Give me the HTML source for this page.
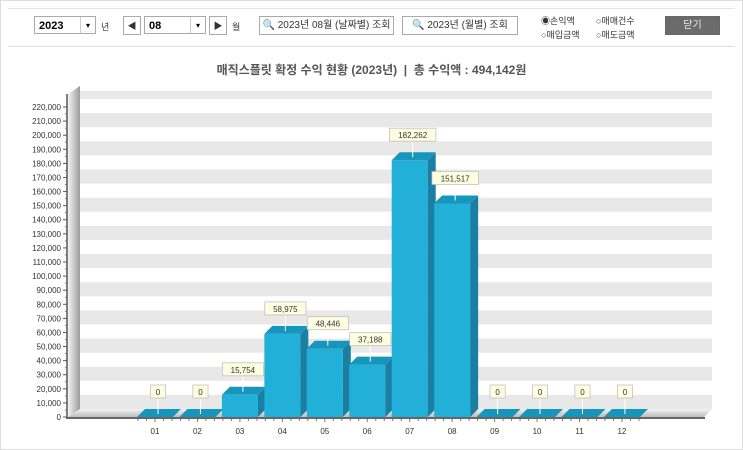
<!DOCTYPE html>
<html><head><meta charset="utf-8"><style>
body{margin:0;width:743px;height:450px;background:#fff;font-family:"Liberation Sans","Noto Sans CJK KR",sans-serif;overflow:hidden}
.frame{position:absolute;left:0;top:0;width:741px;height:448px;border:1px solid #ddd}
.tb{position:absolute;top:8px;left:8px;right:8px;height:37px;border-bottom:1px solid #ddd;border-top:1px solid #e6e6e6}
.sel{position:absolute;top:16px;height:18px;border:1px solid #aaa;font-size:11px;font-weight:bold;line-height:18px;padding-left:4px;box-sizing:border-box;background:#fff}
.sel b{position:absolute;right:0;top:0;width:14px;height:16px;border-left:1px solid #ccc;font-size:8px;text-align:center;font-weight:normal}
.btn{position:absolute;top:16px;height:19px;border:1px solid #aaa;font-size:10px;line-height:18px;text-align:center;box-sizing:border-box;background:#fff;color:#333}
.lbl{position:absolute;font-size:9px;color:#333}
</style></head><body>
<div class="frame"></div>
<div class="tb"></div>
<div class="sel" style="left:34px;width:62px">2023<b>▾</b></div>
<div class="lbl" style="left:101px;top:20px">년</div>
<div class="btn" style="left:123px;width:18px;font-size:9px">◀</div>
<div class="sel" style="left:144px;width:62px">08<b>▾</b></div>
<div class="btn" style="left:209px;width:18px;font-size:9px">▶</div>
<div class="lbl" style="left:232px;top:20px">월</div>
<div class="btn" style="left:259px;width:135px">🔍 2023년 08월 (날짜별) 조회</div>
<div class="btn" style="left:402px;width:116px">🔍 2023년 (월별) 조회</div>
<div class="lbl" style="left:541px;top:14px">◉손익액</div>
<div class="lbl" style="left:596px;top:14px">○매매건수</div>
<div class="lbl" style="left:541px;top:28px">○매입금액</div>
<div class="lbl" style="left:596px;top:28px">○매도금액</div>
<div class="btn" style="left:665px;width:55px;background:#6b6b6b;color:#eee;border-color:#666">닫기</div>
<div style="position:absolute;top:61px;left:0;width:743px;text-align:center;font-size:12px;font-weight:bold;color:#555">매직스플릿 확정 수익 현황 (2023년) &nbsp;| &nbsp;총 수익액 : 494,142원</div>
<svg id="c" width="743" height="450" style="position:absolute;left:0;top:0"></svg>
<script>
const months=["01","02","03","04","05","06","07","08","09","10","11","12"];
const values=[0,0,15754,58975,48446,37188,182262,151517,0,0,0,0];
const yTicks=[0,10000,20000,30000,40000,50000,60000,70000,80000,90000,100000,110000,120000,130000,140000,150000,160000,170000,180000,190000,200000,210000,220000];
const svg=document.getElementById('c');const NS='http://www.w3.org/2000/svg';
const y0=417,pp=14.09/10000,D=8;
const Y=v=>y0-v*pp, X=i=>155+i*42.45;
function mk(t,a,p){const e=document.createElementNS(NS,t);for(const k in a)e.setAttribute(k,a[k]);(p||svg).appendChild(e);return e;}
// defs
const defs=mk('defs',{});
const lg=mk('linearGradient',{id:'wall',x1:0,x2:1,y1:0,y2:0},defs);
mk('stop',{offset:0,'stop-color':'#f4f4f4'},lg);mk('stop',{offset:1,'stop-color':'#9a9a9a'},lg);
const fg=mk('linearGradient',{id:'floor',x1:0,x2:0,y1:0,y2:1},defs);
mk('stop',{offset:0,'stop-color':'#f2f2f2'},fg);mk('stop',{offset:1,'stop-color':'#bdbdbd'},fg);
// back wall bands
const wx0=80,wx1=712;
for(let k=0;k<23;k+=2){const top=Math.max(Y((k+1)*10000)-D,91);const b=mk('rect',{x:wx0,y:top,width:wx1-wx0,height:Y(k*10000)-D-top,fill:'#e8e8e8'});
}
// left wall
mk('polygon',{points:`68,${y0} 80,${y0-D} 80,86 68,94`,fill:'url(#wall)'});
// floor
mk('polygon',{points:`68,${y0} 704,${y0} 712,${y0-D} 80,${y0-D}`,fill:'url(#floor)'});
mk('line',{x1:66,y1:y0+1,x2:705,y2:y0+1,stroke:'#666','stroke-width':2});
mk('line',{x1:67,y1:94,x2:67,y2:y0,stroke:'#555','stroke-width':1.5});
// y ticks
yTicks.forEach(v=>{const y=Y(v);
mk('line',{x1:63,y1:y,x2:67,y2:y,stroke:'#555'});
const t=mk('text',{x:61,y:y+3,'text-anchor':'end','font-size':8,fill:'#333'});t.textContent=v.toLocaleString('en-US');

if(v<220000){const y2=Y(v+5000);mk('line',{x1:65,y1:y2,x2:67,y2:y2,stroke:'#777'});}
});
// bars
const w=36;
values.forEach((v,i)=>{const cx=X(i),x=cx-w/2,yt=Y(v);const g=mk('g',{});

if(v>0){mk('rect',{x:x,y:yt,width:w,height:y0-yt,fill:'#22b0d8'},g);
mk('polygon',{points:`${x+w},${yt} ${x+w+D},${yt-D} ${x+w+D},${y0-D} ${x+w},${y0}`,fill:'#1a7fa3'},g);}
mk('polygon',{points:`${x},${yt} ${x+D},${yt-D} ${x+w+D},${yt-D} ${x+w},${yt}`,fill:'#1796bd'},g);
// label
const s=v.toLocaleString('en-US');const lw=s.length*5.2+10,ly=yt-D-24;
mk('line',{x1:cx+3,y1:ly+14,x2:cx+3,y2:yt-3,stroke:'#fff'},g);
mk('rect',{x:cx+3-lw/2,y:ly,width:lw,height:13,fill:'#fdfde0',stroke:'#bbb','stroke-width':0.7},g);
const t=mk('text',{x:cx+3,y:ly+10,'text-anchor':'middle','font-size':8,fill:'#333'},g);t.textContent=s;

const m=mk('text',{x:cx,y:y0+17,'text-anchor':'middle','font-size':8,fill:'#333'});m.textContent=months[i];

for(let j=-2;j<=2;j++){const tx=cx+j*8.5;mk('line',{x1:tx,y1:y0+2,x2:tx,y2:y0+(j==0?5:4),stroke:'#777'});}
});
</script>
</body></html>
